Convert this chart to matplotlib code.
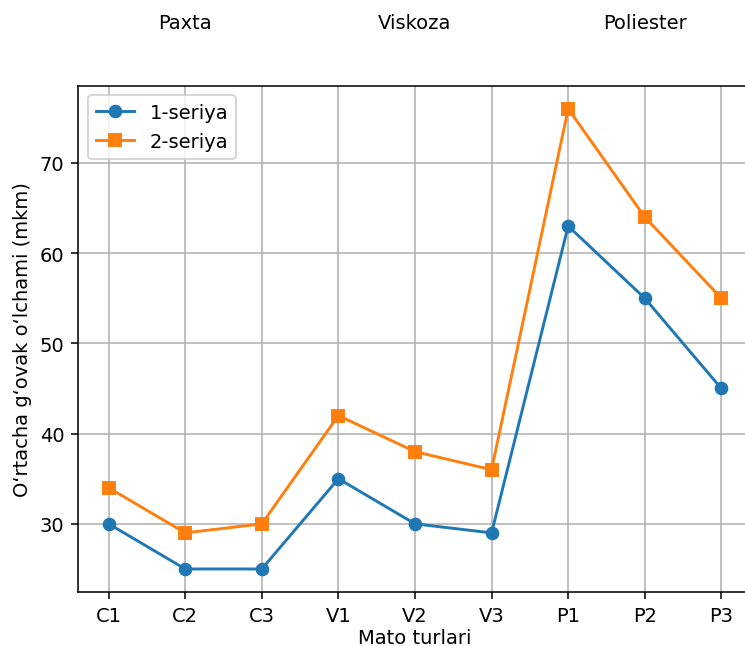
import matplotlib
matplotlib.use("Agg")
import matplotlib.pyplot as plt
import matplotlib.transforms as mtransforms

# Fabric samples and measured mean pore size
samples = ["C1", "C2", "C3", "V1", "V2", "V3", "P1", "P2", "P3"]
series_1 = [30, 25, 25, 35, 30, 29, 63, 55, 45]
series_2 = [34, 29, 30, 42, 38, 36, 76, 64, 55]
groups = ["Paxta", "Viskoza", "Poliester"]
group_centers = [1, 4, 7]

DPI = 140


def main():
    fig = plt.figure(figsize=(745 / DPI, 647 / DPI), dpi=DPI)
    # axes run past the right edge, the reference is cropped there
    ax = fig.add_axes([0.1047, 0.0835, 0.9047, 0.7824])

    x = list(range(len(samples)))
    ax.plot(x, series_1, marker="o", color="tab:blue", label="1-seriya")
    ax.plot(x, series_2, marker="s", color="tab:orange", label="2-seriya")

    ax.set_xticks(x)
    ax.set_xticklabels(samples)
    ax.set_xlabel("Mato turlari", labelpad=2)
    ax.set_ylabel("O‘rtacha g‘ovak o‘lchami (mkm)")
    ax.grid(True)
    ax.legend(loc="upper left")

    # group names above the plot
    trans = mtransforms.blended_transform_factory(ax.transData, ax.transAxes)
    for name, cx in zip(groups, group_centers):
        ax.text(cx, 1.124, name, transform=trans, ha="center", va="center", fontsize=10)

    fig.savefig("out.png", dpi=DPI)


if __name__ == "__main__":
    main()
